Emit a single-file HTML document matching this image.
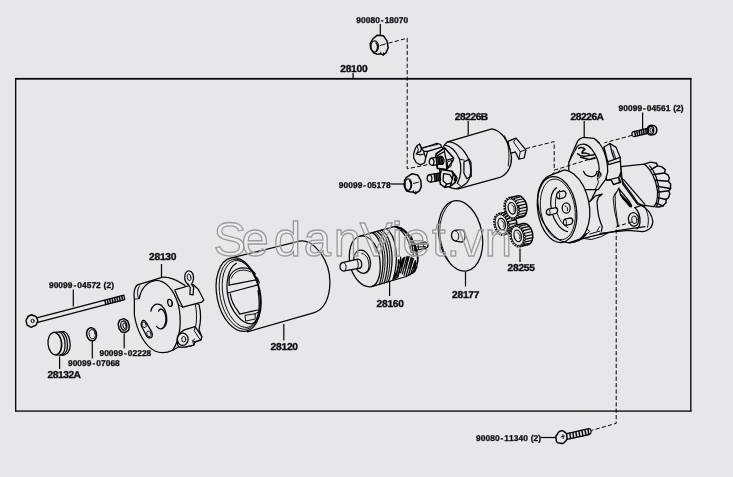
<!DOCTYPE html>
<html lang="en">
<head>
<meta charset="utf-8">
<title>28100</title>
<style>
html,body{margin:0;padding:0;background:#e7e7eb;}
body{width:733px;height:477px;overflow:hidden;}
svg{display:block;}
svg *{vector-effect:non-scaling-stroke;}
.l{fill:none;stroke:#050505;stroke-width:1.25;stroke-linecap:round;stroke-linejoin:round;}
.t{fill:none;stroke:#050505;stroke-width:0.95;stroke-linecap:round;stroke-linejoin:round;}
.k{fill:none;stroke:#050505;stroke-width:1.5;stroke-linecap:round;stroke-linejoin:round;}
.f{fill:#e7e7eb;stroke:#050505;stroke-width:1.25;stroke-linecap:round;stroke-linejoin:round;}
.d{fill:none;stroke:#050505;stroke-width:1;stroke-dasharray:4.2 2.2;}
.ld{fill:none;stroke:#050505;stroke-width:1.2;}
.b{text-rendering:geometricPrecision;font-family:"Liberation Sans",sans-serif;font-weight:bold;font-size:10px;fill:#0c0c0c;stroke:#0c0c0c;stroke-width:0.35;}
.s{text-rendering:geometricPrecision;font-family:"Liberation Sans",sans-serif;font-weight:bold;font-size:8.4px;fill:#0c0c0c;stroke:#0c0c0c;stroke-width:0.3;}
.wm{font-family:"Liberation Sans",sans-serif;font-size:49px;fill:rgba(255,255,255,0.25);stroke:#9c9ca0;stroke-width:1.35;}
</style>
</head>
<body>
<svg width="733" height="477" viewBox="0 0 733 477">
<rect x="0" y="0" width="733" height="477" fill="#e7e7eb"/>
<!-- frame -->
<g id="frame" fill="#0a0a0a" stroke="none">
<rect x="15" y="77.9" width="676.5" height="1.8"/>
<rect x="15" y="410.4" width="676.5" height="1.35"/>
<rect x="15" y="78" width="1.35" height="333.5"/>
<rect x="690.15" y="78" width="1.35" height="333.5"/>
<rect x="352.5" y="73" width="1.3" height="5.5"/>
</g>
<!-- yoke -->
<g id="yoke-28120">
<path class="f" d="M231.3 257.9L299.5 241.2C312 238.2 329.6 258 329.9 281.5C330.1 298 324 309.8 313.5 312.8L247.5 331.8Z"/>
<g transform="translate(238.6 294.5) rotate(-11.5)">
<ellipse class="f" cx="0" cy="0" rx="21.7" ry="37.3"/>
<ellipse class="t" cx="1.3" cy="0" rx="19.9" ry="35.6"/>
<ellipse class="t" cx="2.7" cy="0" rx="18.2" ry="34"/>
<path class="l" d="M4 -31C-5 -28 -10.8 -14 -10.8 0C-11 14 -3 30 7 31.5C14 31 19.5 16 19.8 0"/>
</g>
<g transform="translate(208 250) scale(0.18868)">
<path class="l" d="M112 186L112 150C118 125 140 102 170 96C195 92 220 98 234 108L250 126L246 138L262 150L272 174"/>
<path class="t" d="M124 150C132 128 150 112 172 108C192 105 212 108 226 116"/>
<path class="l" d="M112 186L256 158M104 228L268 184"/>
<path class="l" d="M118 232C122 264 138 298 158 322L168 340L262 318"/>
<path class="t" d="M198 346L250 338L250 366L202 376Z"/>
<path class="t" d="M262 150L256 158M250 338L264 330"/>
</g>
<path class="ld" d="M283.8 324V340.5"/>
</g>
<!-- endframe -->
<g id="endframe-28130" transform="translate(125 265) scale(0.19906)">
<!-- ring lug top right (behind) -->
<path class="f" d="M300 62C300 38 312 28 324 30C338 32 346 50 344 70C342 84 338 92 334 96L345 112L342 150L326 148L328 112L316 96C306 90 300 78 300 62Z"/>
<ellipse class="t" cx="322" cy="62" rx="9" ry="17" transform="rotate(-12 322 62)"/>
<!-- main body -->
<path class="f" d="M62 100L150 73L185 62C215 58 255 72 300 102L352 190L372 200C380 230 382 280 372 325L386 360L381 376L352 386L345 402L300 413L270 411L240 428C210 442 180 445 150 432C105 410 60 340 47 250L47 170C42 150 46 112 62 100Z"/>
<!-- left lug -->
<path class="t" d="M74 104C62 118 58 150 70 170M47 170C56 172 64 172 72 166"/>
<!-- face ellipse right side -->
<path class="l" d="M72 166C80 120 110 84 150 78C200 74 245 120 268 200C285 270 280 370 240 428"/>
<!-- rim lines -->
<path class="t" d="M352 192C362 230 362 280 354 315M268 200L290 212"/>
<!-- plate -->
<path class="f" d="M250 125L342 98L368 122L396 176L386 186L290 212L264 160Z"/>
<!-- ring stem over plate -->
<path class="f" d="M316 96L328 112L326 148L342 150L345 112L334 96"/>
<!-- bottom lug bracket -->
<path class="f" d="M298 326L352 310L386 360L381 376L352 386L345 402L300 413L270 411C262 400 260 380 264 360C268 348 280 338 298 326Z"/>
<path class="t" d="M352 310L348 330L372 368L381 376M345 402L340 380L352 386M340 380L350 372"/>
<ellipse class="l" cx="290" cy="373" rx="27" ry="31"/>
<ellipse class="t" cx="295" cy="373" rx="10" ry="14"/>
<!-- center bore -->
<path class="l" d="M130 232C134 206 152 192 172 198C196 206 212 240 210 280C208 300 200 314 186 320"/>
<path class="l" d="M168 232C176 214 192 218 202 246C210 272 206 304 186 320C176 322 166 318 158 308"/>
<!-- small hole -->
<ellipse class="l" cx="226" cy="190" rx="11" ry="18" transform="rotate(-15 226 190)"/>
<path class="t" d="M232 176C238 186 238 198 232 206"/>
<!-- slot -->
<path class="l" d="M84 286C88 276 98 276 106 288L134 336C140 350 138 364 128 366C118 368 108 360 104 348L84 310C80 300 80 292 84 286Z"/>
<ellipse class="t" cx="96" cy="300" rx="10" ry="15" transform="rotate(-20 96 300)"/>
<ellipse class="t" cx="120" cy="346" rx="10" ry="15" transform="rotate(-20 120 346)"/>
</g>
<path class="ld" d="M161.5 264V277"/>
<!-- armature -->
<g id="armature-28160" transform="translate(335 215) scale(0.17825)">
<!-- rear shaft / pinion -->
<path class="f" d="M430 170L500 152C512 150 522 158 522 170C522 180 514 186 504 188L440 200Z"/>
<path class="t" d="M440 162L506 166M438 180L508 178M500 152C494 160 494 180 504 188M450 158L452 196M466 156L468 194"/>
<!-- body -->
<path class="f" d="M140 118L330 65C380 62 430 110 456 190C476 260 462 320 400 345L205 402C150 410 100 350 84 280C72 200 90 130 140 118Z"/>
<!-- rear dark hatching -->
<path class="l" d="M352 300L366 250M360 312L378 246M368 324L392 236M378 330L404 232M388 338L416 232M400 340L428 236M412 338L440 244M424 334L450 256M436 328L456 272M446 320L460 290M344 338L352 300M352 350L362 316M330 356L340 326M372 290L384 240M396 300L410 236M420 300L434 242M442 300L452 262"/>
<path class="l" d="M330 360C350 330 358 290 356 250M340 358C362 326 372 280 368 236"/>
<path class="k" d="M336 66C384 76 430 120 452 186C462 216 466 246 462 270"/>
<!-- grooves -->
<path class="l" d="M210 99C262 130 290 250 250 388M236 92C288 124 316 246 276 382M262 84C312 118 342 240 300 374M288 77C338 110 366 232 324 366"/>
<path class="t" d="M222 96C274 128 302 248 262 385M250 88C300 122 330 242 288 378"/>
<path class="l" d="M370 72C410 100 436 160 440 230M344 66C390 96 420 150 428 210"/>
<path class="t" d="M428 120L440 150M436 140L448 176M440 165L452 200M444 190L456 226M430 150L436 175"/>
<!-- front face -->
<path class="l" d="M140 118C190 112 236 160 250 240C262 320 246 390 205 402"/>
<!-- hub -->
<ellipse class="f" cx="152" cy="262" rx="46" ry="66" transform="rotate(-12 152 262)"/>
<path class="t" d="M150 215C176 220 192 250 190 290C188 310 180 322 168 326"/>
<!-- shaft -->
<path class="f" d="M46 266L128 248C146 250 152 268 150 284C148 294 142 300 134 300L52 314C38 316 28 304 28 290C28 278 36 268 46 266Z"/>
<path class="t" d="M46 266C58 270 64 282 62 296C60 306 56 312 52 314M120 250C130 258 134 276 128 300"/>
</g>
<path class="ld" d="M389.6 281V296"/>
<!-- disc -->
<g id="disc-28177">
<g transform="translate(460.5 235.8) rotate(-10.5)">
<ellipse class="f" cx="0" cy="0" rx="21.6" ry="35.6"/>
<path class="t" d="M-3 -34.4C-13 -30 -20.4 -14 -20.4 0C-20.4 10 -18 20 -14 27"/>
</g>
<g transform="translate(425 190) scale(0.24096)">
<path class="f" d="M124 168L150 164C160 166 166 176 166 190C166 204 160 214 152 216L128 212C118 210 110 202 110 190C110 178 116 170 124 168Z"/>
<path class="t" d="M124 168C134 172 140 180 140 191C140 202 136 210 128 212"/>
</g>
<path class="ld" d="M465.5 272V286.5"/>
</g>
<!-- solenoid -->
<g id="solenoid-28226B">
<g transform="translate(405 125) scale(0.17737)">
<!-- plunger tab -->
<path class="f" d="M580 92L626 74L682 140L672 186L642 192L622 152L596 160Z"/>
<path class="t" d="M626 74L612 96L650 150L642 192M650 150L676 142"/>
<!-- body -->
<path class="f" d="M240 95L490 22C540 30 590 90 600 180C604 240 570 290 520 300L300 360C250 362 200 330 196 260C186 200 205 120 240 95Z"/>
<path class="t" d="M560 60C585 100 592 170 582 230"/>
</g>
<g transform="translate(405 135) scale(0.1259)">
<!-- cap outline -->
<path class="l" d="M338 54C400 50 470 110 505 190C530 260 530 330 490 380C470 400 440 415 410 425"/>
<path class="l" d="M318 80C360 86 410 130 432 190C452 250 446 330 416 384"/>
<path class="l" d="M468 215L510 192L524 218L526 330L490 346L468 304Z"/>
<path class="t" d="M432 190L470 200M416 384L450 410"/>
</g>
<g transform="translate(410 138) scale(0.10482)">
<!-- connector -->
<path class="f" d="M110 100L258 52L292 62L304 88L168 128L150 186L140 236L100 256L60 236L35 190L35 150L50 100L66 74L92 58Z"/>
<path class="l" d="M92 58L110 100L100 130L70 140L60 152L100 162L136 150L150 186M110 100L130 126L168 128M130 126L136 150"/>
<path class="t" d="M66 74L80 110L70 140M120 92L262 62"/>
<!-- lower block -->
<path class="f" style="stroke-width:1.5" d="M300 300L400 318L442 370L432 424L384 462L330 470L290 440L280 380Z"/>
<path class="l" d="M320 340L380 350L404 390L392 430L350 440L316 410Z"/>
<path class="k" d="M400 318L412 350L442 370M412 350L404 390M384 462L392 430M330 470L350 440"/>
<ellipse class="l" cx="436" cy="392" rx="12" ry="20" transform="rotate(15 436 392)"/>
<!-- square block -->
<path class="f" style="stroke-width:1.6" d="M250 150L330 95L416 190L410 216L346 302L262 290L240 200Z"/>
<path class="l" d="M262 168L328 128L346 214L410 194M346 214L350 300M262 168L262 286"/>
<path class="t" d="M330 95L328 128M360 228L398 214L392 270L362 288Z"/>
<!-- upper stud -->
<path class="f" d="M204 192L300 176L316 244L220 262C196 262 182 246 184 228C184 210 192 196 204 192Z"/>
<path class="k" d="M250 186L258 254M266 183L274 251M282 180L290 248M298 178L306 246"/>
<path class="l" d="M204 192C222 198 232 216 228 238C226 250 222 258 216 262"/>
<ellipse class="l" cx="300" cy="214" rx="24" ry="38" transform="rotate(-8 300 214)"/>
<!-- lower stud -->
<path class="f" d="M184 350L280 334L292 402L200 420C176 420 162 404 164 386C164 368 172 354 184 350Z"/>
<path class="k" d="M232 344L240 412M248 341L256 409M264 338L272 406M280 336L288 403"/>
<path class="l" d="M184 350C202 356 212 374 208 396C206 408 202 416 196 420"/>
</g>
</g>
<path class="ld" d="M468.2 121V135"/>
<!-- gears -->
<g id="gears-28255">
<defs>
<g id="gear">
<g transform="rotate(-13) scale(1.1 1.13)">
<path d="M0 -9.6L7.6 -9.6A6.4 9.6 0 0 1 7.6 9.6L0 9.6Z" fill="#e7e7eb" stroke="#050505" stroke-width="1.5" stroke-linejoin="round"/>
<path d="M5.9 -3.6h7.8M6.3 -0.9h7.8M6.3 1.8h7.8M5.8 4.4h7.4M4.9 6.7h6.8M3.4 8.6h5.6M5.1 -6h7.2M3.6 -8.1h6.2" fill="none" stroke="#050505" stroke-width="1.15"/>
<ellipse cx="0" cy="0" rx="6.4" ry="9.6" fill="#e7e7eb" stroke="#050505" stroke-width="1.9" stroke-dasharray="1.6 1"/>
<ellipse cx="0" cy="0" rx="5.5" ry="8.6" fill="none" stroke="#050505" stroke-width="0.9"/>
<ellipse cx="0.3" cy="0" rx="3.3" ry="5.2" fill="none" stroke="#050505" stroke-width="1.2"/>
<path d="M0.6 -2.8C2.6 -2 2.8 1.6 1 3" fill="none" stroke="#050505" stroke-width="0.9"/>
</g>
</g>
</defs>
<use href="#gear" x="501.4" y="224.2"/>
<use href="#gear" x="511.6" y="208.4"/>
<use href="#gear" x="517.4" y="236"/>
<path class="ld" d="M520 248.5V262"/>
</g>
<!-- housing -->
<g id="housing-28226A">
<path transform="translate(575 175) scale(0.14676)" fill="#e7e7eb" stroke="none" d="M150 40L330 30L477 200L477 350L300 378L140 412L0 445L0 100Z"/>
<!-- right part: clutch + lug (frame E: origin 600,150 scale 5.3) -->
<g transform="translate(600 150) scale(0.18868)">
<!-- spline end -->
<path class="f" style="stroke-width:1.4" d="M235 75L268 64L300 70L304 84L326 88L346 104L342 122L360 132L368 150L362 166L374 180L374 204L364 216L370 232L362 254L350 262L350 280L334 296L312 302L285 300Z"/>
<path class="k" d="M270 104L304 84M284 130L342 122M294 160L362 166M300 192L374 204M304 224L364 216M302 252L350 262M294 280L334 296"/>
<path class="l" d="M262 84C290 110 312 170 314 230C314 262 308 286 298 300"/>
<!-- cylinder -->
<path class="f" d="M110 88L235 75C270 100 298 160 305 220C306 260 298 290 285 300L200 290L120 180Z"/>
<path class="l" d="M110 88L100 110L110 140L125 175L165 230L200 280L235 300M185 305L220 294C250 310 275 340 280 378C280 400 270 420 240 430L225 432L150 426L80 432L0 442"/>
<path class="l" d="M110 236L160 286L166 302L120 256Z"/>
<path class="t" d="M100 200L80 240L82 300L90 360L98 404M235 300C255 330 262 370 252 410"/>
<path class="l" d="M185 305C200 320 214 350 212 384C210 400 204 412 196 418"/>
<ellipse class="l" cx="178" cy="368" rx="27" ry="36" transform="rotate(-10 178 368)"/>
<ellipse class="t" cx="182" cy="370" rx="14" ry="20" transform="rotate(-10 182 370)"/>
</g>
<!-- mid body (frame F: origin 575,175 scale 6.814) -->
<g transform="translate(575 175) scale(0.14676)">
<path class="l" d="M150 40L165 65L140 110L115 160L100 182L140 142L186 130L160 152L150 180C152 240 165 310 186 352L180 382"/>
<path class="t" d="M300 95L270 130L260 160L270 250L285 310L290 350"/>
<path class="l" d="M300 95L372 182L386 210L374 216L310 136Z"/>
<path class="l" d="M330 30L477 200M250 30L300 20L312 50L262 62Z"/>
<path class="l" d="M0 447L60 432L140 412L230 392L300 378L380 366L477 352"/>
<path class="t" d="M100 402L170 382M60 432L110 440L180 420L230 392M150 380L170 350"/>
</g>
<!-- top mount (frame D: origin 560,128 scale 6.814) -->
<g transform="translate(560 128) scale(0.14676)">
<!-- right blocks -->
<path class="f" d="M300 130L340 105L382 132L410 200L416 300L400 336L405 370L365 386L350 356L320 356L300 300Z"/>
<path class="l" d="M320 232L410 200M330 250L412 226M320 356L400 336M340 105L352 160L370 215M300 130L330 250"/>
<path class="t" d="M360 150L380 210M350 356L365 386"/>
<!-- ring -->
<path class="f" d="M60 235L80 180L120 90C135 70 150 64 165 64L230 70C255 80 275 105 300 160C315 200 326 250 325 300L310 352L260 420L160 420L60 300Z"/>
<path class="l" d="M105 150C115 120 140 108 165 110C200 115 235 160 255 215C270 260 272 300 255 332"/>
<path class="t" d="M230 70C250 90 262 110 270 100M60 235L105 150"/>
<!-- lever details -->
<path class="k" d="M128 140C140 128 160 130 170 145C160 150 150 160 150 172C165 168 185 172 200 180M120 175C135 190 160 195 185 190L235 182M140 200L200 215L240 205"/>
<path class="l" d="M160 295C170 320 195 335 225 330C240 326 250 312 250 298"/>
<ellipse class="t" cx="266" cy="316" rx="9" ry="14"/>
<path class="t" d="M250 298C262 290 276 296 280 312C282 330 270 345 255 340L262 372L240 420"/>
</g>
<!-- cup (frame C: origin 530,155 scale 5.025) -->
<g transform="translate(530 155) scale(0.199)">
<path class="f" d="M95 105L170 76C200 74 240 105 268 155C292 205 304 260 300 310C296 360 276 405 250 422L200 440C150 445 95 395 58 322C36 270 32 200 50 160C60 135 75 115 95 105Z"/>
<g transform="rotate(-9 136 274)">
<ellipse class="l" cx="136" cy="274" rx="97" ry="167"/>
<ellipse class="t" cx="140" cy="274" rx="86" ry="154"/>
<path class="l" d="M150 166C118 180 104 230 108 280C112 330 136 378 170 392"/>
<path class="t" d="M165 180C140 196 128 238 132 280C136 322 152 356 176 372"/>
</g>
<path class="t" d="M110 97L122 88M140 86L150 78M286 372L300 384L270 410"/>
<path class="k" d="M196 441C230 440 262 426 284 396"/>
<!-- hub -->
<ellipse class="l" cx="182" cy="266" rx="20" ry="26"/>
<path class="t" d="M176 256C186 258 192 268 188 280"/>
<!-- pins -->
<path class="f" d="M142 186L168 180C178 182 182 192 180 202C178 210 174 214 168 216L146 220C136 218 132 210 134 200C134 194 138 188 142 186Z"/>
<path class="f" d="M92 272L130 264C138 266 140 274 138 284C136 290 132 294 128 294L98 302C88 302 82 296 82 288C82 280 86 274 92 272Z"/>
<path class="f" d="M176 322L204 316C212 318 216 326 214 336C212 344 208 348 204 348L180 354C170 352 166 346 168 336C168 330 172 324 176 322Z"/>
<path class="t" d="M142 186C150 192 152 206 146 220M92 272C102 278 104 292 98 302M176 322C184 328 186 342 180 354"/>
</g>
<path class="ld" d="M584.2 121V137"/>
</g>
<!-- small -->
<g id="small-parts">
<!-- through bolt 90099-04572 (frame G: origin 20,290 scale 6.664) -->
<g transform="translate(20 290) scale(0.15006)">
<path class="f" d="M112 186L692 34L698 64L118 216Z"/>
<path class="k" d="M566 70L572 96M582 66L588 92M598 62L604 88M614 58L620 84M630 54L636 80M646 50L652 76M662 46L668 72M678 40L684 68"/>
<path class="f" style="stroke-width:1.5" d="M64 172C72 164 84 166 90 172C100 170 112 178 112 190C120 198 120 212 112 220C112 232 102 242 90 240C82 250 68 250 62 240C50 240 42 230 44 218C38 208 40 194 50 188C50 180 56 172 64 172Z"/>
<ellipse class="t" cx="84" cy="206" rx="10" ry="12"/>
</g>
<path class="ld" d="M73.3 289.6V306.5"/>
<!-- cap 28132A (frame H: origin 30,315 scale 6.664) -->
<g transform="translate(30 315) scale(0.15006)">
<path class="f" d="M160 116L228 110C250 120 266 155 268 200C268 235 250 262 226 268L172 266Z"/>
<path class="l" d="M196 112C218 125 234 160 234 205C234 235 222 260 200 268M212 111C234 124 250 158 250 203C250 234 238 258 216 268"/>
<ellipse class="f" cx="166" cy="191" rx="46" ry="75" transform="rotate(-6 166 191)"/>
<path class="t" d="M174 122C196 135 210 165 208 205C206 235 196 255 182 262"/>
</g>
<path class="ld" d="M59.6 356.5V369"/>
<!-- o-ring 90099-07068 -->
<g transform="translate(91.6 334.3) rotate(-10)">
<ellipse class="f" style="stroke-width:1.5" cx="0" cy="0" rx="4.9" ry="6.6"/>
<ellipse class="t" cx="0.6" cy="0" rx="3" ry="4.6"/>
</g>
<path class="ld" d="M92.3 341V358.5"/>
<!-- nut 90099-02228 -->
<g transform="translate(123.8 325.6) rotate(-10) scale(0.9)">
<path class="f" style="stroke-width:1.5" d="M-3.5 -6.8L1.5 -7.6L5 -4.5L6 1L4.5 6L0.5 7.8L-3.5 6.5L-5.8 2.5L-5.8 -3Z"/>
<ellipse class="l" cx="0" cy="0" rx="3.4" ry="5.2"/>
<ellipse class="t" cx="0.8" cy="0.2" rx="1.8" ry="3.2"/>
</g>
<path class="ld" d="M124.2 333.5V348.5"/>
<!-- screw 90099-04561 (frame I: origin 600,95 scale 7.33) -->
<g transform="translate(600 95) scale(0.13643)">
<path class="f" d="M240 270L352 244L360 280L248 306C238 304 234 294 234 286C234 278 236 272 240 270Z"/>
<path class="k" d="M254 268L260 302M270 264L276 298M286 260L292 294M302 256L308 290M318 252L324 286M334 248L340 282"/>
<path class="f" style="stroke-width:1.5" d="M372 222L400 226C412 232 418 246 416 262C414 278 406 288 396 290L372 294C356 292 346 276 346 258C346 240 356 226 372 222Z"/>
<ellipse class="l" cx="374" cy="258" rx="20" ry="28"/>
<ellipse class="t" cx="376" cy="258" rx="10" ry="16"/>
</g>
<path class="ld" d="M642.6 112.5V129.5"/>
<!-- bolt 90080-11340 (frame J: origin 465,415 scale 4.581) -->
<g transform="translate(465 415) scale(0.21829)">
<path class="f" d="M462 86L566 62C574 62 578 68 578 76C578 82 574 88 568 90L466 112Z"/>
<path class="k" d="M480 84L484 108M494 81L498 105M508 78L512 102M522 75L526 99M536 72L540 96M550 69L554 92M564 65L566 89"/>
<path class="f" style="stroke-width:1.5" d="M432 76C440 70 452 72 456 78C464 80 468 90 466 98C470 106 466 118 458 122C454 130 442 134 434 128C424 130 416 122 418 112C414 104 416 92 424 88C424 82 428 78 432 76Z"/>
<path class="t" d="M440 100L456 96M448 90L450 108"/>
</g>
<path class="ld" d="M540.5 437.5H556.5"/>
<!-- nut 90080-18070 (frame: origin 330,10 scale 6.356) -->
<g transform="translate(330 10) scale(0.15733)">
<path class="f" style="stroke-width:1.5" d="M272 184L300 160L340 164L362 196L370 240L356 272L338 285L322 278L300 282L278 272L258 244L256 212Z"/>
<ellipse class="l" cx="284" cy="232" rx="24" ry="36"/>
<path class="l" d="M292 208C304 218 306 244 294 258"/>
<path class="t" d="M318 226L352 216M338 290L340 272M322 280L322 268"/>
</g>
<path class="ld" d="M380.3 24V35"/>
<!-- nut 90099-05178 (frame K: origin 330,160 scale 6.664) -->
<g transform="translate(330 160) scale(0.15006)">
<path class="f" style="stroke-width:1.5" d="M510 115L545 92L585 100L605 135L608 180L596 206L580 216L570 224L556 214L540 214L510 206L495 176L497 136Z"/>
<ellipse class="l" cx="522" cy="164" rx="22" ry="38"/>
<path class="l" d="M530 138C542 150 544 178 532 192"/>
<path class="t" d="M556 156L590 148M570 224L572 208M556 214L556 204"/>
</g>
<path class="ld" d="M390.5 184H404.5"/>
</g>
<!-- dashes -->
<g id="dashed-lines">
<path class="d" d="M388.5 43.2L407.2 38.2V168.8L428 164.6"/>
<path class="d" d="M526 148.6L554.2 141.6V170.2"/>
<path class="d" d="M554.2 170.2L596 157.2"/>
<path class="d" d="M632 135.4L604.5 142.8"/>
<path class="d" d="M632 221.8L616.2 226.8V423.4L591.6 430.4"/>
</g>
<!-- labels -->
<g id="labels" style="filter:grayscale(1)">
<text class="s" transform="scale(1.0 1)" y="22.6" x="356.32 361.04 365.76 370.48 375.20 380.86 384.64 389.36 394.08 398.80 403.52">90080-18070</text>
<text class="b" transform="scale(1.02 1)" y="72" x="333.52 338.88 344.23 349.58 354.94">28100</text>
<text class="b" transform="scale(1.02 1)" y="120" x="445.77 450.92 456.07 461.22 466.36 471.24">28226B</text>
<text class="b" transform="scale(1.02 1)" y="120" x="559.30 564.45 569.60 574.74 579.89 584.77">28226A</text>
<text class="s" transform="scale(1.0 1)" y="111.0" x="618.52 623.24 627.96 632.68 637.40 643.06 646.84 651.56 656.28 661.00 665.72 673.22 676.08 680.82">90099-04561(2)</text>
<text class="s" transform="scale(1.0 1)" y="187.8" x="338.82 343.54 348.26 352.98 357.70 363.36 367.14 371.86 376.58 381.30 386.02">90099-05178</text>
<text class="b" transform="scale(1.02 1)" y="271" x="497.54 502.90 508.25 513.60 518.96">28255</text>
<text class="b" transform="scale(1.02 1)" y="297.5" x="443.13 448.48 453.84 459.19 464.54">28177</text>
<text class="b" transform="scale(1.02 1)" y="307" x="369.11 374.47 379.82 385.17 390.52">28160</text>
<text class="b" transform="scale(1.02 1)" y="260.3" x="146.07 151.43 156.78 162.13 167.48">28130</text>
<text class="s" transform="scale(1.0 1)" y="288.0" x="48.92 53.64 58.36 63.08 67.80 73.46 77.24 81.96 86.68 91.40 96.12 103.62 106.48 111.22">90099-04572(2)</text>
<text class="b" transform="scale(1.02 1)" y="350" x="265.19 270.54 275.90 281.25 286.60">28120</text>
<text class="s" transform="scale(1.0 1)" y="355.8" x="99.42 104.14 108.86 113.58 118.30 123.96 127.74 132.46 137.18 141.90 146.62">90099-02228</text>
<text class="s" transform="scale(1.0 1)" y="365.7" x="67.92 72.64 77.36 82.08 86.80 92.46 96.24 100.96 105.68 110.40 115.12">90099-07068</text>
<text class="b" transform="scale(1.02 1)" y="378" x="46.66 51.80 56.95 62.10 67.24 72.13">28132A</text>
<text class="s" transform="scale(1.0 1)" y="440.8" x="476.02 480.74 485.46 490.18 494.90 500.56 504.34 509.06 513.78 518.50 523.22 530.72 533.58 538.32">90080-11340(2)</text>
</g>
<!-- watermark -->
<g id="watermark"><text class="wm" x="213.4 241.6 273.7 303.8 333.7 359.7 391.7 402.4 431.9 446.5 459.3 484.8" y="255.6">SedanViet.vn</text></g>
</svg>
</body>
</html>
